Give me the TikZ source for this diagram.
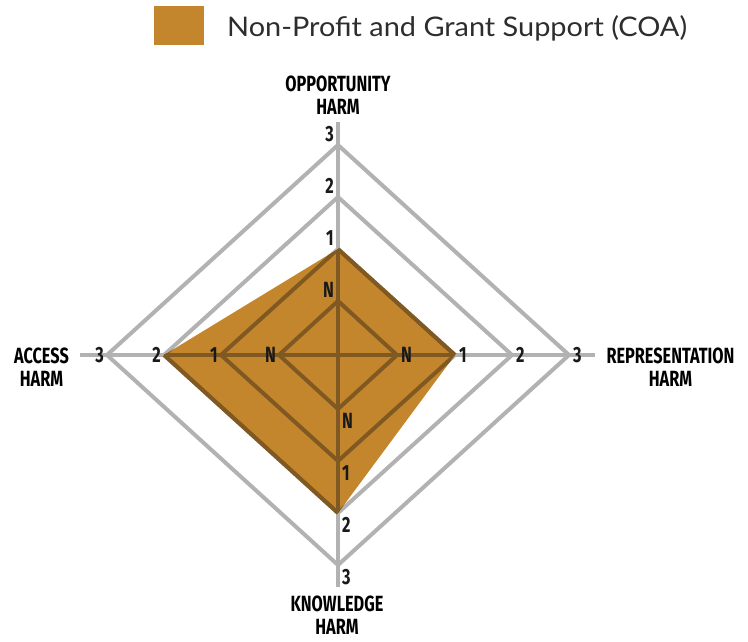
\documentclass[tikz,border=0pt]{standalone}
\usepackage{fontspec}
\usetikzlibrary{positioning}
\newfontfamily\axisfont[FakeStretch=0.74]{Fira Sans}
\newfontfamily\legendfont[FakeStretch=1.07]{Lato}
\definecolor{coagold}{RGB}{196,134,44}
\definecolor{coabrown}{RGB}{128,89,34}
\definecolor{gridgray}{RGB}{178,178,178}
\definecolor{legendtext}{RGB}{45,45,45}

\begin{document}
\begin{tikzpicture}[x=1pt, y=-1pt,
    gridline/.style={draw=gridgray, line width=4pt, line join=miter},
    harmlabel/.style={font=\axisfont\bfseries\fontsize{22}{23}\selectfont, align=center,
                      inner sep=0pt, anchor=north, text=black},
    ticklabel/.style={font=\axisfont\bfseries\fontsize{22}{24}\selectfont, inner sep=0pt,
                      text=black!90}]
\useasboundingbox (0,0) rectangle (748,641);

% legend
\node[fill=coagold, inner sep=0pt, minimum width=50pt, minimum height=39pt,
      anchor=north west] (legendbox) at (154,6) {};
\node[font=\legendfont\fontsize{27}{30}\selectfont, text=legendtext, inner sep=0pt,
      anchor=base west] (legendtxt) at (227,36) {Non-Profit and Grant Support (COA)};

% ring corners: level / vertical radius / horizontal radius
\coordinate (o) at (338,355);
\foreach \k/\v/\h in {0/54/59, 1/106/117, 2/158/174, 3/210/231} {
  \coordinate (t\k) at (338,355-\v);
  \coordinate (r\k) at (338+\h,355);
  \coordinate (b\k) at (338,355+\v);
  \coordinate (l\k) at (338-\h,355);
}
\coordinate (axtop) at (338,122);
\coordinate (axbottom) at (338,587);
\coordinate (axleft) at (80,355);
\coordinate (axright) at (595,355);

% grid
\draw[gridline] (axtop) -- (axbottom);
\draw[gridline] (axleft) -- (axright);
\foreach \k in {0,...,3}
  \draw[gridline] (t\k) -- (r\k) -- (b\k) -- (l\k) -- cycle;

% scores, grid shows through darker
\fill[coagold] (t1) -- (r1) -- (b2) -- (l2) -- cycle;
\begin{scope}
\clip (t1) -- (r1) -- (b2) -- (l2) -- cycle;
\draw[gridline, draw=coabrown] (axtop) -- (axbottom);
\draw[gridline, draw=coabrown] (axleft) -- (axright);
\foreach \k in {0,...,3}
  \draw[gridline, draw=coabrown] (t\k) -- (r\k) -- (b\k) -- (l\k) -- cycle;
\end{scope}
\draw[gridline, draw=coabrown] (t1) -- (r1);
\draw[gridline, draw=coabrown] (b2) -- (l2);

% tick labels
\foreach \k/\lab in {0/N, 1/1, 2/2, 3/3} {
  \node[ticklabel, anchor=south east] (tt\k) at ([shift={(-4,-3)}]t\k) {\lab};
  \node[ticklabel, anchor=west] (tr\k) at ([shift={(4,0)}]r\k) {\lab};
  \node[ticklabel, anchor=north west] (tb\k) at ([shift={(4,4)}]b\k) {\lab};
  \node[ticklabel, anchor=east] (tl\k) at ([shift={(-3,0)}]l\k) {\lab};
}

% axis names
\node[harmlabel] (opportunity) at (338,76) {OPPORTUNITY\\HARM};
\node[harmlabel] (access) at (41.5,348) {ACCESS\\HARM};
\node[harmlabel] (representation) at (670.5,348) {REPRESENTATION\\HARM};
\node[harmlabel] (knowledge) at (337,596) {KNOWLEDGE\\HARM};
\end{tikzpicture}
\end{document}
